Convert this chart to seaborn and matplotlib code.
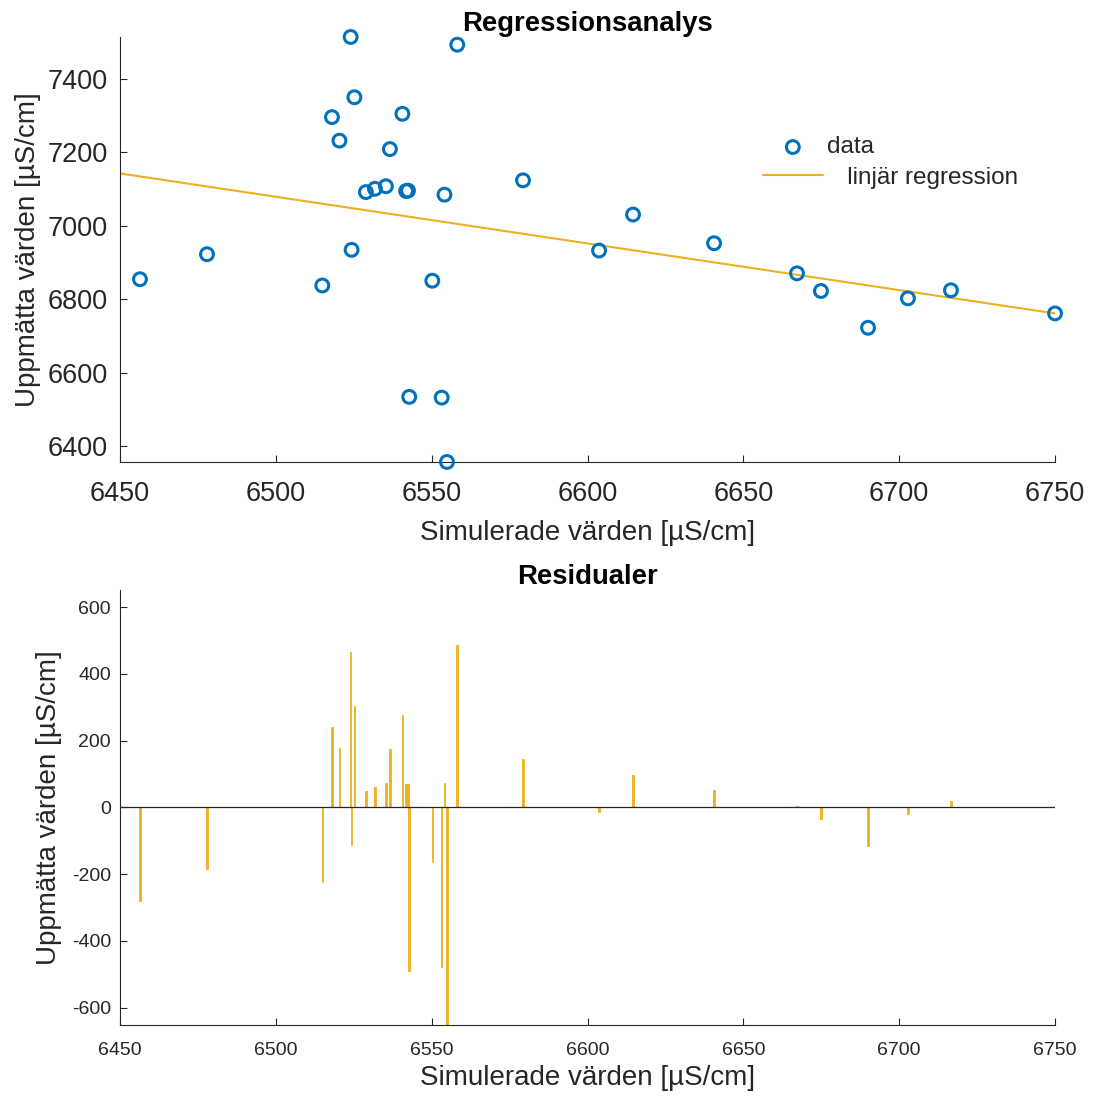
import numpy as np
import seaborn as sns
import matplotlib.pyplot as plt

sim_values = [6456.4, 6477.9, 6514.9, 6518.0, 6520.4, 6524.0, 6524.3, 6525.2,
              6528.9, 6531.8, 6535.3, 6536.6, 6540.6, 6541.8, 6542.4, 6542.8,
              6550.2, 6553.2, 6554.1, 6554.9, 6558.2, 6579.3, 6603.7, 6614.6,
              6640.6, 6667.2, 6674.9, 6690.0, 6702.8, 6716.6, 6750.0]
meas_values = [6854, 6922, 6837, 7295, 7231, 7513, 6934, 7349,
               7091, 7100, 7107, 7208, 7304, 7094, 7095, 6534,
               6850, 6532, 7084, 6357, 7492, 7123, 6932, 7030,
               6952, 6870, 6822, 6722, 6802, 6824, 6761]

# regression line end points
fit_x = [6450, 6750]
fit_y = [7141.8, 6761.0]

xticks = [6450, 6500, 6550, 6600, 6650, 6700, 6750]
yticks_top = [6400, 6600, 6800, 7000, 7200, 7400]
yticks_bot = [-600, -400, -200, 0, 200, 400, 600]

x = np.array(sim_values)
y = np.array(meas_values)
residuals = y - np.interp(x, fit_x, fit_y)

blue = "#0072BD"
yellow = "#EDB120"
axcol = "#262626"

sns.set_style("ticks")
plt.rcParams['font.family'] = ['Liberation Sans', 'DejaVu Sans']
plt.rcParams['axes.unicode_minus'] = False
plt.rcParams['xtick.direction'] = 'in'
plt.rcParams['ytick.direction'] = 'in'
plt.rcParams['axes.edgecolor'] = axcol
plt.rcParams['xtick.color'] = axcol
plt.rcParams['ytick.color'] = axcol

fig = plt.figure(figsize=(10.94, 10.97), dpi=100)
ax1 = fig.add_axes([0.1097, 0.5789, 0.8547, 0.3874])
ax2 = fig.add_axes([0.1097, 0.0656, 0.8547, 0.3965])

# top: data and regression line
sns.scatterplot(x=x, y=y, ax=ax1, s=85, facecolor="none", edgecolor=blue,
                linewidth=2.2, label="data", clip_on=False, zorder=3)
sns.lineplot(x=fit_x, y=fit_y, ax=ax1, color=yellow, linewidth=1.5,
             label="   linjär regression")

ax1.set_xlim(6450, 6750)
ax1.set_ylim(6357, 7513)
ax1.set_xticks(xticks)
ax1.set_yticks(yticks_top)
ax1.tick_params(axis='x', labelsize=19.5, length=5, width=0.8, pad=14)
ax1.tick_params(axis='y', labelsize=19.5, length=5, width=0.8, pad=8.5)
ax1.set_title("Regressionsanalys", fontsize=19.8, fontweight="bold", pad=4,
              color="black")
ax1.set_xlabel("Simulerade värden [µS/cm]", fontsize=20, color=axcol)
ax1.set_ylabel("Uppmätta värden [µS/cm]", fontsize=20, color=axcol)
ax1.xaxis.set_label_coords(0.5, -0.137)
ax1.yaxis.set_label_coords(-0.084, 0.5)
ax1.legend(loc="upper left", bbox_to_anchor=(0.6877, 0.766), frameon=False,
           fontsize=17.5, handlelength=2.45, handletextpad=0.2,
           labelspacing=0.35, borderpad=0, borderaxespad=0)
sns.despine(ax=ax1)

# bottom: residuals
ax2.bar(x, residuals, width=0.5, color=yellow, edgecolor=yellow, linewidth=0.6)
ax2.axhline(0, color=axcol, linewidth=0.9, zorder=3)
ax2.set_xlim(6450, 6750)
ax2.set_ylim(-652, 651)
ax2.set_xticks(xticks)
ax2.set_yticks(yticks_bot)
ax2.tick_params(axis='x', labelsize=14, length=5, width=0.8, pad=12)
ax2.tick_params(axis='y', labelsize=14, length=5, width=0.8, pad=6.5)
ax2.set_title("Residualer", fontsize=19.8, fontweight="bold", pad=4,
              color="black")
ax2.set_xlabel("Simulerade värden [µS/cm]", fontsize=20, color=axcol)
ax2.set_ylabel("Uppmätta värden [µS/cm]", fontsize=20, color=axcol)
ax2.xaxis.set_label_coords(0.5, -0.093)
ax2.yaxis.set_label_coords(-0.062, 0.5)
sns.despine(ax=ax2)

fig.savefig("out.png", dpi=100)
